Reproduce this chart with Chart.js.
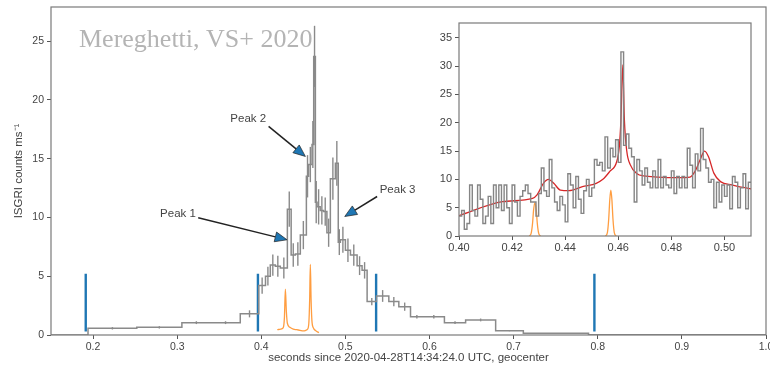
<!DOCTYPE html>
<html>
<head>
<meta charset="utf-8">
<script src="https://cdn.jsdelivr.net/npm/chart.js@4.4.0/dist/chart.umd.min.js"></script>
<style>
  html, body { margin: 0; padding: 0; background: #fff; }
  #wrap { position: relative; width: 770px; height: 367px; overflow: hidden; }
  #main { position: absolute; left: 0; top: 0; }
  #inset { position: absolute; left: 425px; top: 10px; }
</style>
</head>
<body>
<div id="wrap">
  <canvas id="main" width="770" height="367"></canvas>
  <canvas id="inset" width="340" height="250"></canvas>
</div>
<script>
// ISGRI light curve, variable-width bins (edges in s since T0)
const binEdges = [0.150, 0.194, 0.252, 0.3056, 0.340, 0.375, 0.397, 0.405, 0.4107, 0.4167, 0.4226, 0.4310,
  0.4355, 0.4405, 0.4464, 0.4536, 0.4563, 0.4603, 0.4623, 0.4643, 0.4663, 0.4700, 0.4740, 0.4780, 0.4821,
  0.4881, 0.4915, 0.4940, 0.5000, 0.5060, 0.5139, 0.5198, 0.5258, 0.5369, 0.5516, 0.5635, 0.5774, 0.5925,
  0.6177, 0.6429, 0.6786, 0.7115, 0.789, 0.907, 1.0];
const binRates = [0.0, 0.57, 0.65, 1.05, 1.05, 1.8, 4.2, 5.0, 5.95, 5.85, 5.7,
  10.7, 6.8, 6.9, 8.5, 13.5, 14.5, 16.2, 23.7, 11.3, 10.9, 10.6, 10.5, 8.7,
  13.3, 14.6, 7.9, 8.1, 7.2, 6.8, 5.9, 5.5, 2.84, 3.32, 2.84, 2.41,
  1.56, 1.56, 1.05, 1.28, 0.37, 0.15, 0.03];
const binErrors = [0, 0.1, 0.1, 0.12, 0.12, 0.3, 0.7, 0.8, 0.9, 0.9, 0.9,
  1.5, 1.0, 1.0, 1.2, 1.8, 1.5, 2.0, 2.6, 1.8, 1.5, 1.2, 1.2, 1.2,
  1.8, 1.9, 1.1, 1.1, 1.0, 0.9, 0.8, 0.7, 0.3, 0.5, 0.4, 0.35,
  0.15, 0.15, 0.12, 0.12, 0.05, 0.03, 0];

// trigger marks
const markTimes = [0.1913, 0.3960, 0.5365, 0.7960];
const markLow = 0.3;
const markHigh = 5.2;

// radio profile (scaled)
const radioT = [0.419, 0.423, 0.426, 0.4275, 0.4286, 0.4298, 0.431, 0.434, 0.438, 0.442, 0.446, 0.450,
  0.453, 0.455, 0.4565, 0.4575, 0.4583, 0.4592, 0.4602, 0.462, 0.465, 0.4685];
const radioV = [0.45, 0.5, 0.6, 1.5, 3.9, 2.0, 1.0, 0.65, 0.5, 0.45, 0.4, 0.35,
  0.4, 0.5, 1.0, 3.0, 6.0, 3.0, 1.2, 0.6, 0.35, 0.2];

const xTicks = [0.2, 0.3, 0.4, 0.5, 0.6, 0.7, 0.8, 0.9, 1.0];
const yTicks = [0, 5, 10, 15, 20, 25];

const peakNames = ['Peak 1', 'Peak 2', 'Peak 3'];
const peakText = [[0.301, 10.3], [0.3845, 18.4], [0.562, 12.35]];
const peakFrom = [[0.325, 9.97], [0.4087, 17.74], [0.5377, 11.78]];
const peakTo = [[0.4306, 8.1], [0.4524, 15.19], [0.4992, 10.08]];

// inset: 1 ms bins from 0.400 s
const insetStart = 0.400;
const insetBin = 0.001;
const insetRates = [3.5, 4.5, 1.2, 2.2, 9.0, 4.5, 3.5, 9.0, 6.5, 2.2,
  3.5, 7.0, 2.2, 9.0, 5.0, 9.0, 4.5, 9.0, 5.0, 2.2,
  9.0, 6.0, 3.5, 7.0, 8.0, 9.0, 7.5, 6.0, 6.0, 3.5,
  7.5, 12.0, 8.0, 7.0, 13.5, 8.5, 6.0, 4.5, 7.0, 5.5,
  2.5, 11.0, 9.0, 5.0, 10.5, 6.5, 4.0, 8.0, 10.0, 7.0,
  8.5, 13.5, 12.5, 13.0, 11.5, 17.5, 12.0, 15.5, 14.0, 17.0,
  13.0, 32.5, 16.0, 18.0, 15.5, 14.0, 6.0, 13.5, 11.5, 9.0,
  12.0, 9.5, 8.5, 11.5, 8.5, 13.5, 8.5, 10.5, 9.0, 8.5,
  11.5, 7.5, 10.5, 8.5, 10.5, 8.5, 15.5, 12.5, 8.5, 14.5,
  11.5, 19.0, 13.5, 12.0, 9.5, 10.0, 5.0, 9.5, 6.0, 9.0,
  7.0, 9.0, 4.8, 10.5, 9.5, 5.0, 8.5, 11.0, 4.8, 9.5];

// fitted model
const modelT = [0.400, 0.4164, 0.4277, 0.4294, 0.4318, 0.4337, 0.4357, 0.4382, 0.4414, 0.4465, 0.4517,
  0.4542, 0.4568, 0.4594, 0.4604, 0.4610, 0.4617, 0.4623, 0.4632, 0.4645, 0.4671, 0.4696, 0.4748,
  0.4825, 0.4870, 0.4889, 0.4908, 0.4925, 0.4940, 0.4960, 0.4985, 0.5030, 0.5100];
const modelV = [3.6, 6.06, 6.65, 7.25, 9.3, 10.0, 9.3, 8.1, 8.0, 8.7, 9.3,
  10.0, 11.4, 13.1, 15.8, 20.5, 30.2, 20.5, 15.0, 12.6, 11.0, 10.6, 10.4,
  10.3, 10.4, 11.4, 13.4, 15.0, 14.0, 11.1, 9.6, 9.0, 8.3];

// radio bursts at full resolution
const burstAT = [0.4265, 0.4272, 0.4277, 0.4281, 0.4286, 0.4291, 0.4295, 0.4300, 0.4307];
const burstAV = [0, 0.5, 2.2, 4.6, 5.9, 4.6, 2.2, 0.5, 0];
const burstBT = [0.4552, 0.4559, 0.4564, 0.4568, 0.4572, 0.4576, 0.4580, 0.4585, 0.4592];
const burstBV = [0, 0.6, 3.0, 6.4, 8.1, 6.4, 3.0, 0.6, 0];

const insetXTicks = [0.40, 0.42, 0.44, 0.46, 0.48, 0.50];
const insetYTicks = [0, 5, 10, 15, 20, 25, 30, 35];

Chart.defaults.font.family = "'Liberation Sans', Arial, sans-serif";
Chart.defaults.color = '#444';

const GREY = '#8a8a8a';
const BLUE = '#1f77b4';
const ORANGE = 'rgba(255,140,30,0.85)';

function stepPoints(edges, vals) {
  return edges.map((e, i) => ({ x: e, y: vals[Math.min(i, vals.length - 1)] }));
}
function xyPoints(xs, ys) {
  return xs.map((x, i) => ({ x: x, y: ys[i] }));
}

const markPoints = [];
markTimes.forEach(t => {
  markPoints.push({ x: t, y: markLow }, { x: t, y: markHigh }, { x: t, y: null });
});

// axis box on all four sides
const frame = {
  id: 'frame',
  afterDatasetsDraw(chart) {
    const a = chart.chartArea, ctx = chart.ctx;
    ctx.save();
    ctx.strokeStyle = '#7a7a7a';
    ctx.lineWidth = 1.2;
    ctx.strokeRect(a.left, a.top, a.right - a.left, a.bottom - a.top);
    ctx.restore();
  }
};

// vertical error bars at bin centres
const errorBars = {
  id: 'errorBars',
  beforeDatasetsDraw(chart, args, opts) {
    const xs = chart.scales.x, ys = chart.scales.y, ctx = chart.ctx;
    const a = chart.chartArea;
    ctx.save();
    ctx.beginPath();
    ctx.rect(a.left, a.top, a.right - a.left, a.bottom - a.top);
    ctx.clip();
    ctx.strokeStyle = GREY;
    ctx.lineWidth = 1.4;
    binRates.forEach((v, i) => {
      const e = binErrors[i];
      if (!e) return;
      const px = xs.getPixelForValue((binEdges[i] + binEdges[i + 1]) / 2);
      ctx.beginPath();
      ctx.moveTo(px, ys.getPixelForValue(v - e));
      ctx.lineTo(px, ys.getPixelForValue(v + e));
      ctx.stroke();
    });
    ctx.restore();
  }
};

// watermark and peak annotations
const notes = {
  id: 'notes',
  beforeDatasetsDraw(chart) {
    const ctx = chart.ctx;
    ctx.save();
    ctx.font = "26px 'Liberation Serif', 'DejaVu Serif', serif";
    ctx.fillStyle = '#b4b4b4';
    ctx.textBaseline = 'alphabetic';
    ctx.fillText('Mereghetti, VS+ 2020', 79, 47);
    ctx.restore();
  },
  afterDatasetsDraw(chart) {
    const xs = chart.scales.x, ys = chart.scales.y, ctx = chart.ctx;
    ctx.save();
    ctx.font = "11.5px 'Liberation Sans', Arial, sans-serif";
    ctx.fillStyle = '#444';
    ctx.textAlign = 'center';
    ctx.textBaseline = 'middle';
    peakNames.forEach((name, i) => {
      ctx.fillText(name, xs.getPixelForValue(peakText[i][0]), ys.getPixelForValue(peakText[i][1]));
      const x0 = xs.getPixelForValue(peakFrom[i][0]), y0 = ys.getPixelForValue(peakFrom[i][1]);
      const x1 = xs.getPixelForValue(peakTo[i][0]), y1 = ys.getPixelForValue(peakTo[i][1]);
      const ang = Math.atan2(y1 - y0, x1 - x0);
      const hl = 12, hw = 5;
      const bx = x1 - hl * Math.cos(ang), by = y1 - hl * Math.sin(ang);
      ctx.strokeStyle = '#222';
      ctx.lineWidth = 1.5;
      ctx.beginPath();
      ctx.moveTo(x0, y0);
      ctx.lineTo(bx, by);
      ctx.stroke();
      ctx.beginPath();
      ctx.moveTo(x1, y1);
      ctx.lineTo(bx + hw * Math.sin(ang), by - hw * Math.cos(ang));
      ctx.lineTo(bx - hw * Math.sin(ang), by + hw * Math.cos(ang));
      ctx.closePath();
      ctx.fillStyle = BLUE;
      ctx.fill();
      ctx.lineWidth = 0.7;
      ctx.stroke();
      ctx.fillStyle = '#444';
    });
    ctx.restore();
  }
};

function fixedTicks(list) {
  return scale => { scale.ticks = list.map(v => ({ value: v })); };
}

new Chart(document.getElementById('main'), {
  type: 'line',
  data: {
    datasets: [
      { data: stepPoints(binEdges, binRates), stepped: true, borderColor: GREY, borderWidth: 1.5,
        pointRadius: 0, fill: false },
      { data: xyPoints(radioT, radioV), borderColor: ORANGE, borderWidth: 1.3, pointRadius: 0,
        cubicInterpolationMode: 'monotone', fill: false },
      { data: markPoints, borderColor: BLUE, borderWidth: 2.4, pointRadius: 0, spanGaps: false, fill: false }
    ]
  },
  options: {
    responsive: false,
    animation: false,
    events: [],
    layout: { padding: { top: 7, right: 4, left: 0, bottom: 0 } },
    plugins: { legend: { display: false }, tooltip: { enabled: false } },
    scales: {
      x: {
        type: 'linear', min: 0.15, max: 1.0,
        afterBuildTicks: fixedTicks(xTicks),
        afterFit: s => { s.height = 32; s.paddingLeft = 0; s.paddingRight = 0; },
        ticks: { callback: v => v.toFixed(1), font: { size: 10.5 }, color: '#444', padding: 2, maxRotation: 0, autoSkip: false },
        grid: { drawOnChartArea: false, tickLength: 4, color: '#555' },
        border: { display: false },
        title: { display: true, text: 'seconds since 2020-04-28T14:34:24.0 UTC, geocenter',
          font: { size: 11.5 }, color: '#444', padding: { top: 0, bottom: 2 } }
      },
      y: {
        type: 'linear', min: 0, max: 27.9,
        afterBuildTicks: fixedTicks(yTicks),
        afterFit: s => { s.width = 51; s.paddingTop = 0; s.paddingBottom = 0; },
        ticks: { font: { size: 10.5 }, color: '#444', padding: 3 },
        grid: { drawOnChartArea: false, tickLength: 4, color: '#555' },
        border: { display: false },
        title: { display: true, text: 'ISGRI counts ms\u207B\u00B9', font: { size: 11.5 }, color: '#444',
          padding: { top: 12, bottom: 0 } }
      }
    }
  },
  plugins: [errorBars, notes, frame]
});

const insetEdges = insetRates.map((v, i) => insetStart + i * insetBin).concat([insetStart + insetRates.length * insetBin]);

new Chart(document.getElementById('inset'), {
  type: 'line',
  data: {
    datasets: [
      { data: stepPoints(insetEdges, insetRates), stepped: true, borderColor: '#858585', borderWidth: 1.4,
        pointRadius: 0, fill: false },
      { data: xyPoints(modelT, modelV), borderColor: '#d62728', borderWidth: 1.3, pointRadius: 0,
        cubicInterpolationMode: 'monotone', fill: false },
      { data: xyPoints(burstAT, burstAV), borderColor: ORANGE, borderWidth: 1.3, pointRadius: 0,
        cubicInterpolationMode: 'monotone', fill: false },
      { data: xyPoints(burstBT, burstBV), borderColor: ORANGE, borderWidth: 1.3, pointRadius: 0,
        cubicInterpolationMode: 'monotone', fill: false }
    ]
  },
  options: {
    responsive: false,
    animation: false,
    events: [],
    layout: { padding: { top: 13, right: 14, left: 0, bottom: 0 } },
    plugins: { legend: { display: false }, tooltip: { enabled: false } },
    scales: {
      x: {
        type: 'linear', min: 0.40, max: 0.51,
        afterBuildTicks: fixedTicks(insetXTicks),
        afterFit: s => { s.height = 24; s.paddingLeft = 0; s.paddingRight = 0; },
        ticks: { callback: v => v.toFixed(2), font: { size: 11 }, color: '#444', padding: 1, maxRotation: 0, autoSkip: false },
        grid: { drawOnChartArea: false, tickLength: 4, color: '#555' },
        border: { display: false }
      },
      y: {
        type: 'linear', min: 0, max: 37.6,
        afterBuildTicks: fixedTicks(insetYTicks),
        afterFit: s => { s.width = 34; s.paddingTop = 0; s.paddingBottom = 0; },
        ticks: { font: { size: 11 }, color: '#444', padding: 3 },
        grid: { drawOnChartArea: false, tickLength: 4, color: '#555' },
        border: { display: false }
      }
    }
  },
  plugins: [frame]
});
</script>
</body>
</html>
